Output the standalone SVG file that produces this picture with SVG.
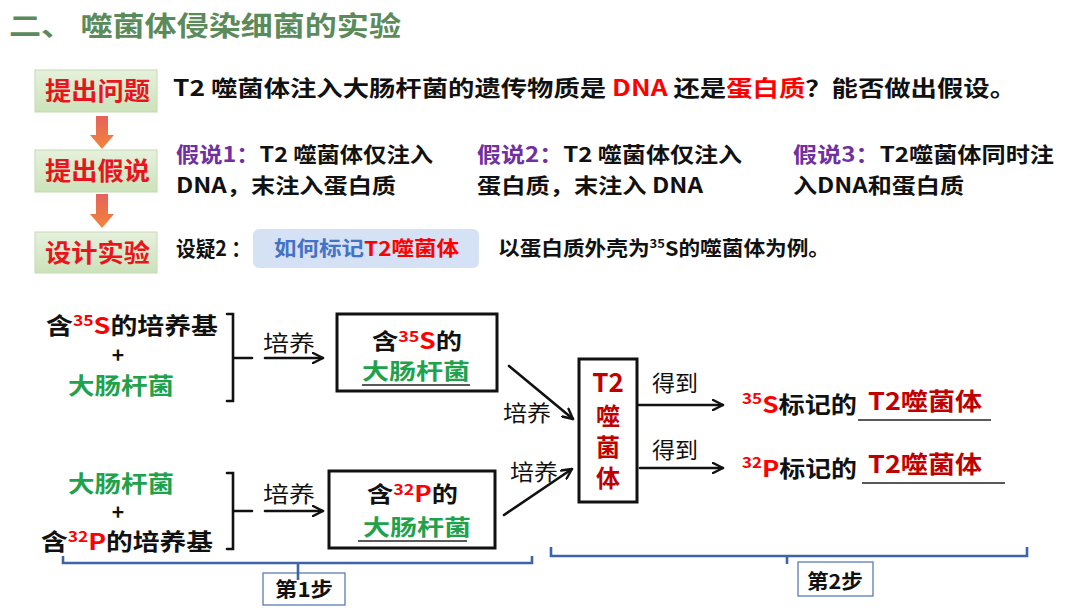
<svg xmlns="http://www.w3.org/2000/svg" width="1080" height="608" viewBox="0 0 1080 608">
<defs>
<style>
.t{font-family:"Noto Sans CJK SC","Noto Sans",sans-serif;font-weight:700;fill:#111}
.k{font-family:"Noto Sans CJK SC","Noto Sans",sans-serif;font-weight:400;fill:#111;font-size:22px}
.lab{font-size:25px;fill:#e8151c}
.red{fill:#ff0000}
.dred{fill:#c00000}
.grn{fill:#1ea24b}
.pur{fill:#7030a0}
.blu{fill:#4472c4}
.ln{stroke:#111;stroke-width:2.6;fill:none;stroke-linecap:round}
.bx{stroke:#111;stroke-width:3;fill:#fff}
.br{stroke:#3d64a6;stroke-width:2.6;fill:none}
.sb{stroke:#5a7db5;stroke-width:1.3;fill:#fff}
.ul{stroke:#222;stroke-width:1.4}
</style>
<linearGradient id="gg" x1="0" y1="0" x2="0" y2="1">
<stop offset="0" stop-color="#e6f1dd"/>
<stop offset="1" stop-color="#cbe2b9"/>
</linearGradient>
<linearGradient id="og" x1="0" y1="0" x2="0" y2="1">
<stop offset="0" stop-color="#e5625c"/>
<stop offset="1" stop-color="#f2843a"/>
</linearGradient>
<marker id="ah" viewBox="0 0 12 12" refX="11" refY="6" markerWidth="12" markerHeight="12" markerUnits="userSpaceOnUse" orient="auto">
<path d="M1,1 L11,6 L1,11" fill="none" stroke="#111" stroke-width="2.4" stroke-linecap="round" stroke-linejoin="round"/>
</marker>
</defs>
<rect width="1080" height="608" fill="#fff"/>

<g id="title">
<text class="t" x="9" y="36" font-size="27" style="fill:#5b8b5a" textLength="392" lengthAdjust="spacingAndGlyphs" xml:space="preserve">二、 噬菌体侵染细菌的实验</text>
</g>

<g id="step-question">
<rect x="35" y="70" width="122" height="42" fill="url(#gg)" stroke="#c3dab3" stroke-width="1"/>
<text class="t lab" x="45" y="100" textLength="105" lengthAdjust="spacingAndGlyphs">提出问题</text>
</g>
<g id="step-hypothesis">
<rect x="35" y="150" width="122" height="42" fill="url(#gg)" stroke="#c3dab3" stroke-width="1"/>
<text class="t lab" x="45" y="180" textLength="105" lengthAdjust="spacingAndGlyphs">提出假说</text>
</g>
<g id="step-design">
<rect x="35" y="232" width="122" height="41" fill="url(#gg)" stroke="#c3dab3" stroke-width="1"/>
<text class="t lab" x="45" y="262" textLength="105" lengthAdjust="spacingAndGlyphs">设计实验</text>
</g>

<g id="question-text">
<text class="t" x="173" y="96" font-size="22" textLength="843" lengthAdjust="spacingAndGlyphs" xml:space="preserve">T2 噬菌体注入大肠杆菌的遗传物质是 <tspan class="red">DNA</tspan> 还是<tspan class="red">蛋白质</tspan>？能否做出假设。</text>
</g>

<g id="hyp1">
<text class="t" x="176" y="162" font-size="21" textLength="257" lengthAdjust="spacingAndGlyphs" xml:space="preserve"><tspan class="pur">假说1：</tspan>T2 噬菌体仅注入</text>
<text class="t" x="176" y="193" font-size="21" textLength="220" lengthAdjust="spacingAndGlyphs">DNA，末注入蛋白质</text>
</g>
<g id="hyp2">
<text class="t" x="477" y="162" font-size="21" textLength="265" lengthAdjust="spacingAndGlyphs" xml:space="preserve"><tspan class="pur">假说2：</tspan>T2 噬菌体仅注入</text>
<text class="t" x="477" y="193" font-size="21" textLength="226" lengthAdjust="spacingAndGlyphs" xml:space="preserve">蛋白质，末注入 DNA</text>
</g>
<g id="hyp3">
<text class="t" x="793" y="162" font-size="21" textLength="261" lengthAdjust="spacingAndGlyphs"><tspan class="pur">假说3：</tspan>T2噬菌体同时注</text>
<text class="t" x="793" y="193" font-size="21" textLength="171" lengthAdjust="spacingAndGlyphs">入DNA和蛋白质</text>
</g>

<g id="design-text">
<text class="t" x="176" y="256" font-size="21" textLength="75" lengthAdjust="spacingAndGlyphs" xml:space="preserve">设疑2 ：</text>
<rect x="253" y="229" width="226" height="39" rx="6" fill="#d5e1f4"/>
<text class="t" x="274" y="256" font-size="20" textLength="185" lengthAdjust="spacingAndGlyphs"><tspan class="blu">如何标记</tspan><tspan class="red">T2噬菌体</tspan></text>
<text class="t" x="498" y="256" font-size="20" textLength="332" lengthAdjust="spacingAndGlyphs">以蛋白质外壳为<tspan font-size="12" dy="-8">35</tspan><tspan dy="8">S的噬菌体为例。</tspan></text>
</g>

<g id="source-S">
<text class="t" x="46" y="334" font-size="23" textLength="172" lengthAdjust="spacingAndGlyphs">含<tspan class="red" font-size="15" dy="-8">35</tspan><tspan class="red" dy="8">S</tspan>的培养基</text>
<text class="t" x="118" y="363" font-size="21" text-anchor="middle">+</text>
<text class="t grn" x="68" y="394" font-size="23" textLength="106" lengthAdjust="spacingAndGlyphs">大肠杆菌</text>
</g>
<g id="source-P">
<text class="t grn" x="68" y="492" font-size="23" textLength="106" lengthAdjust="spacingAndGlyphs">大肠杆菌</text>
<text class="t" x="118" y="520" font-size="21" text-anchor="middle">+</text>
<text class="t" x="41" y="550" font-size="23" textLength="172" lengthAdjust="spacingAndGlyphs">含<tspan class="red" font-size="15" dy="-8">32</tspan><tspan class="red" dy="8">P</tspan>的培养基</text>
</g>

<g id="ecoli-S">
<rect class="bx" x="337" y="314" width="160" height="77"/>
<text class="t" x="372" y="349" font-size="22" textLength="90" lengthAdjust="spacingAndGlyphs">含<tspan class="red" font-size="15" dy="-7">35</tspan><tspan class="red" dy="7">S</tspan>的</text>
<text class="t grn" x="362" y="379" font-size="22" textLength="108" lengthAdjust="spacingAndGlyphs">大肠杆菌</text>
<line class="ul" x1="362" y1="385" x2="470" y2="385"/>
</g>
<g id="ecoli-P">
<rect class="bx" x="329" y="471" width="166" height="77"/>
<text class="t" x="367" y="502" font-size="22" textLength="91" lengthAdjust="spacingAndGlyphs">含<tspan class="red" font-size="15" dy="-7">32</tspan><tspan class="red" dy="7">P</tspan>的</text>
<text class="t grn" x="363" y="535" font-size="22" textLength="108" lengthAdjust="spacingAndGlyphs">大肠杆菌</text>
<line class="ul" x1="358" y1="541" x2="467" y2="541"/>
</g>

<g id="phage">
<rect class="bx" x="579" y="359" width="58" height="143"/>
<text class="t dred" x="608" y="392" font-size="26" text-anchor="middle">T2</text>
<text class="t dred" x="608" y="425" font-size="24" text-anchor="middle">噬</text>
<text class="t dred" x="608" y="456" font-size="24" text-anchor="middle">菌</text>
<text class="t dred" x="608" y="487" font-size="24" text-anchor="middle">体</text>
</g>

<g id="result-S">
<text class="t" x="742" y="413" font-size="23" textLength="115" lengthAdjust="spacingAndGlyphs"><tspan class="red" font-size="15" dy="-9">35</tspan><tspan class="red" dy="9">S</tspan>标记的</text>
<text class="t dred" x="868" y="410" font-size="24" textLength="114" lengthAdjust="spacingAndGlyphs">T2噬菌体</text>
<line class="ul" x1="858" y1="420" x2="991" y2="420"/>
</g>
<g id="result-P">
<text class="t" x="742" y="477" font-size="23" textLength="115" lengthAdjust="spacingAndGlyphs"><tspan class="red" font-size="15" dy="-9">32</tspan><tspan class="red" dy="9">P</tspan>标记的</text>
<text class="t dred" x="868" y="473" font-size="24" textLength="114" lengthAdjust="spacingAndGlyphs">T2噬菌体</text>
<line class="ul" x1="862" y1="483" x2="1005" y2="483"/>
</g>

<g id="step1">
<rect class="sb" x="263" y="573" width="82" height="32"/>
<text class="t" x="304" y="597" font-size="20" text-anchor="middle" textLength="58" lengthAdjust="spacingAndGlyphs">第1步</text>
</g>
<g id="step2">
<rect class="sb" x="798" y="562" width="75" height="34"/>
<text class="t" x="835" y="589" font-size="20" text-anchor="middle" textLength="56" lengthAdjust="spacingAndGlyphs">第2步</text>
</g>

<g id="connectors">
<polygon points="96,116 108,116 108,135 114,135 102,149 90,135 96,135" fill="url(#og)"/>
<polygon points="96,194 108,194 108,214 114,214 102,228 90,214 96,214" fill="url(#og)"/>
<path class="ln" d="M227,314 H233 V401 H227 M233,358 H252"/>
<path class="ln" d="M227,473 H233 V549 H227 M233,511 H252"/>
<line class="ln" x1="265" y1="358" x2="323" y2="358" marker-end="url(#ah)"/>
<line class="ln" x1="265" y1="511" x2="323" y2="511" marker-end="url(#ah)"/>
<line class="ln" x1="509" y1="366" x2="573" y2="419" marker-end="url(#ah)"/>
<line class="ln" x1="504" y1="515" x2="572" y2="469" marker-end="url(#ah)"/>
<line class="ln" x1="639" y1="405" x2="723" y2="405" marker-end="url(#ah)"/>
<line class="ln" x1="640" y1="468" x2="723" y2="468" marker-end="url(#ah)"/>
<text class="k" x="263" y="351" textLength="52" lengthAdjust="spacingAndGlyphs">培养</text>
<text class="k" x="263" y="502" textLength="52" lengthAdjust="spacingAndGlyphs">培养</text>
<text class="k" x="503" y="421" textLength="48" lengthAdjust="spacingAndGlyphs">培养</text>
<text class="k" x="510" y="480" textLength="48" lengthAdjust="spacingAndGlyphs">培养</text>
<text class="k" x="652" y="391" textLength="46" lengthAdjust="spacingAndGlyphs">得到</text>
<text class="k" x="652" y="458" textLength="46" lengthAdjust="spacingAndGlyphs">得到</text>
<path class="br" d="M63,556 V563 H532 V556 M298,563 V580"/>
<path class="br" d="M551,547 V556 H1027 V547 M787,556 V564"/>
</g>
</svg>
